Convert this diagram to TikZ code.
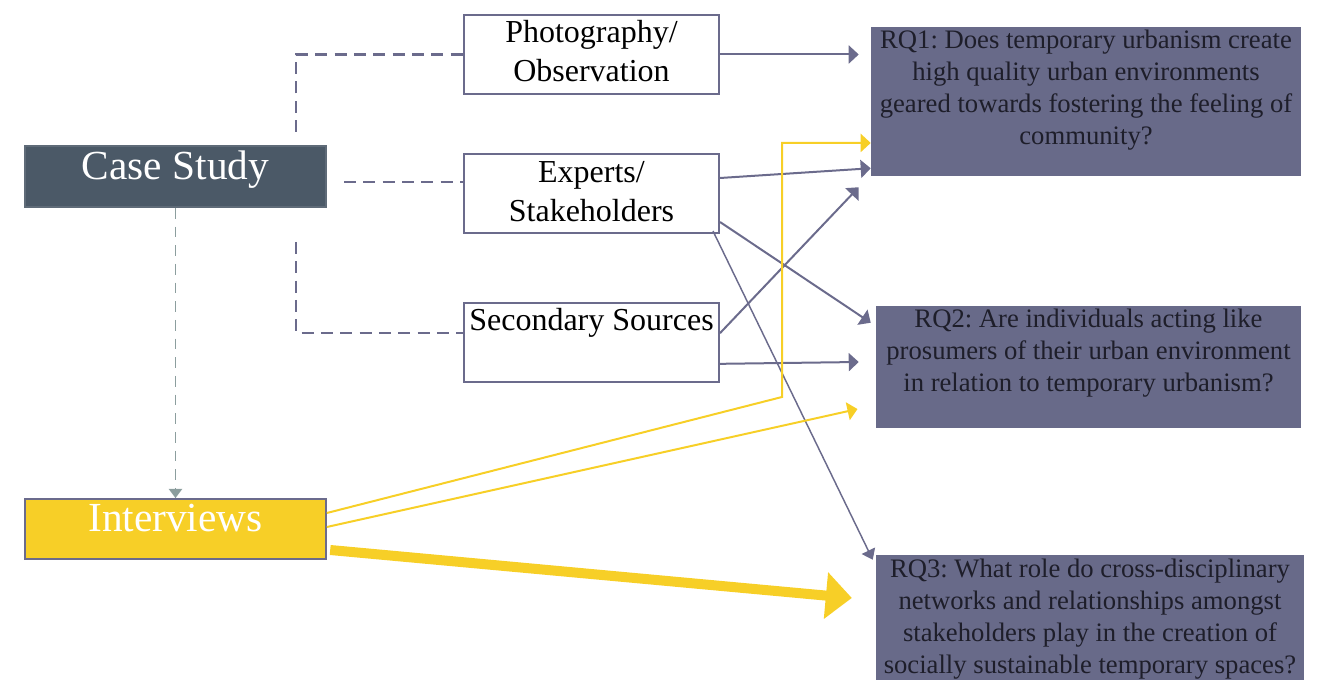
\documentclass[tikz,border=0pt]{standalone}
\usepackage{fontspec}
\setmainfont{Liberation Serif}
\usetikzlibrary{arrows.meta}
\frenchspacing
\definecolor{edge}{HTML}{6B6B8C}
\definecolor{casefill}{HTML}{4B5967}
\definecolor{caseline}{HTML}{5F6B78}
\definecolor{rqfill}{HTML}{686A89}
\definecolor{rqtxt}{HTML}{1E1E2A}
\definecolor{yel}{HTML}{F7CF27}
\definecolor{tealgrey}{HTML}{8C9E9E}
\newcommand{\srclines}[2]{\raisebox{4.5pt}{\begin{tabular}{@{}c@{}}#1\\#2\end{tabular}}}
\tikzset{
  mainbox/.style={draw=edge, line width=1.3pt, inner sep=0pt, text=white,
    font=\fontsize{31}{36}\selectfont, minimum width=225.75pt},
  srcbox/.style={draw=edge, line width=1.5pt, fill=white, inner sep=0pt,
    minimum width=191.25pt, minimum height=59.25pt,
    text=black, font=\fontsize{24}{29}\selectfont},
  rqbox/.style={fill=rqfill, inner sep=0pt},
  rqtext/.style={align=center, inner sep=0pt, text=rqtxt,
    font=\fontsize{20}{24}\selectfont},
  arr/.style={draw=edge, line width=1.5pt, -{Triangle[length=7.5pt,width=13.5pt]}},
  thinarr/.style={draw=edge, line width=1.1pt, -{Triangle[length=7.5pt,width=11pt]}},
  yarr/.style={draw=yel, line width=1.5pt, -{Triangle[length=7.5pt,width=13.5pt]}},
  bigyarr/.style={draw=yel, fill=yel, line width=7.5pt, -{Triangle[length=19.5pt,width=34pt]}},
  dashline/.style={draw=edge, line width=1.6pt, dash pattern=on 9pt off 5.5pt},
  tealdash/.style={draw=tealgrey, line width=1.4pt, dash pattern=on 8pt off 6pt,
    -{Triangle[length=7pt,width=10pt]}}
}
\begin{document}
\begin{tikzpicture}[x=0.75pt,y=-0.75pt]
\useasboundingbox (0,0) rectangle (1329,680);

% main boxes
\node[mainbox, draw=caseline, fill=casefill, minimum height=45.75pt] (case) at (175.5,176.5) {\raisebox{-2.6pt}[0pt][0pt]{Case Study}};
\node[mainbox, fill=yel, minimum height=45pt] (intv) at (175.5,529) {\raisebox{-2.25pt}[0pt][0pt]{Interviews}};

% source boxes
\node[srcbox] (photo) at (591.5,54.5) {\srclines{Photography/}{Observation}};
\node[srcbox] (expert) at (591.5,194) {\srclines{Experts/}{Stakeholders}};
\node[srcbox] (second) at (591.5,342.5) {\srclines{Secondary Sources}{\phantom{S}}};

% research question boxes
\node[rqbox, minimum width=322.5pt, minimum height=111.75pt] (rq1) at (1086,101.5) {};
\node[rqtext, anchor=north] (rq1t) at (1086,30) {RQ1: Does temporary urbanism create\\high quality urban environments\\geared towards fostering the feeling of\\community?};
\node[rqbox, minimum width=318.75pt, minimum height=91.5pt] (rq2) at (1088.5,367) {};
\node[rqtext, anchor=north] (rq2t) at (1088.5,309) {RQ2: Are individuals acting like\\prosumers of their urban environment\\in relation to temporary urbanism?};
\node[rqbox, minimum width=321pt, minimum height=93.75pt] (rq3) at (1090,617.5) {};
\node[rqtext, anchor=north] (rq3t) at (1090,559) {RQ3: What role do cross-disciplinary\\networks and relationships amongst\\stakeholders play in the creation of\\socially sustainable temporary spaces?};

% dashed links from case study
\coordinate (d1) at (296,132);
\coordinate (d2) at (344,182);
\coordinate (d3) at (296,242);
\draw[dashline] (d1) |- (photo.west);
\draw[dashline] (d2) -- (d2 -| expert.west);
\draw[dashline] (d3) |- ([yshift=7pt]second.west);
\draw[tealdash] (case.south) -- (intv.north);

% grey arrows
\draw[arr, shorten >=9pt] (photo.east) -- (photo.east -| rq1.west);
\draw[arr] ([yshift=12pt]expert.east) -- ([yshift=6pt]rq1.south west);
\draw[arr] ([yshift=7pt]second.east) -- ([xshift=-9pt,yshift=-8.25pt]rq1.south west);
\draw[arr] ([yshift=-21pt]expert.east) -- ([xshift=-3.75pt,yshift=-12.75pt]rq2.north west);
\draw[arr] ([yshift=-16pt]second.east) -- ([xshift=-12.75pt,yshift=3.75pt]rq2.west);
\draw[thinarr] ([xshift=-5.25pt,yshift=2.6pt]expert.south east) -- ([xshift=-2.25pt,yshift=-3.75pt]rq3.north west);

% yellow arrows
\coordinate (ybend) at (782,397);
\draw[yarr] ([yshift=12pt]intv.east) -- (ybend) |- ([yshift=-31.1pt]rq1.west);
\draw[yarr, shorten >=14pt] ([yshift=1.5pt]intv.east) -- ([yshift=-28.5pt]rq2.west);
\draw[bigyarr, shorten >=18pt] ([xshift=2.5pt,yshift=-15.75pt]intv.east) -- ([yshift=13pt]rq3.west);
\end{tikzpicture}
\end{document}
